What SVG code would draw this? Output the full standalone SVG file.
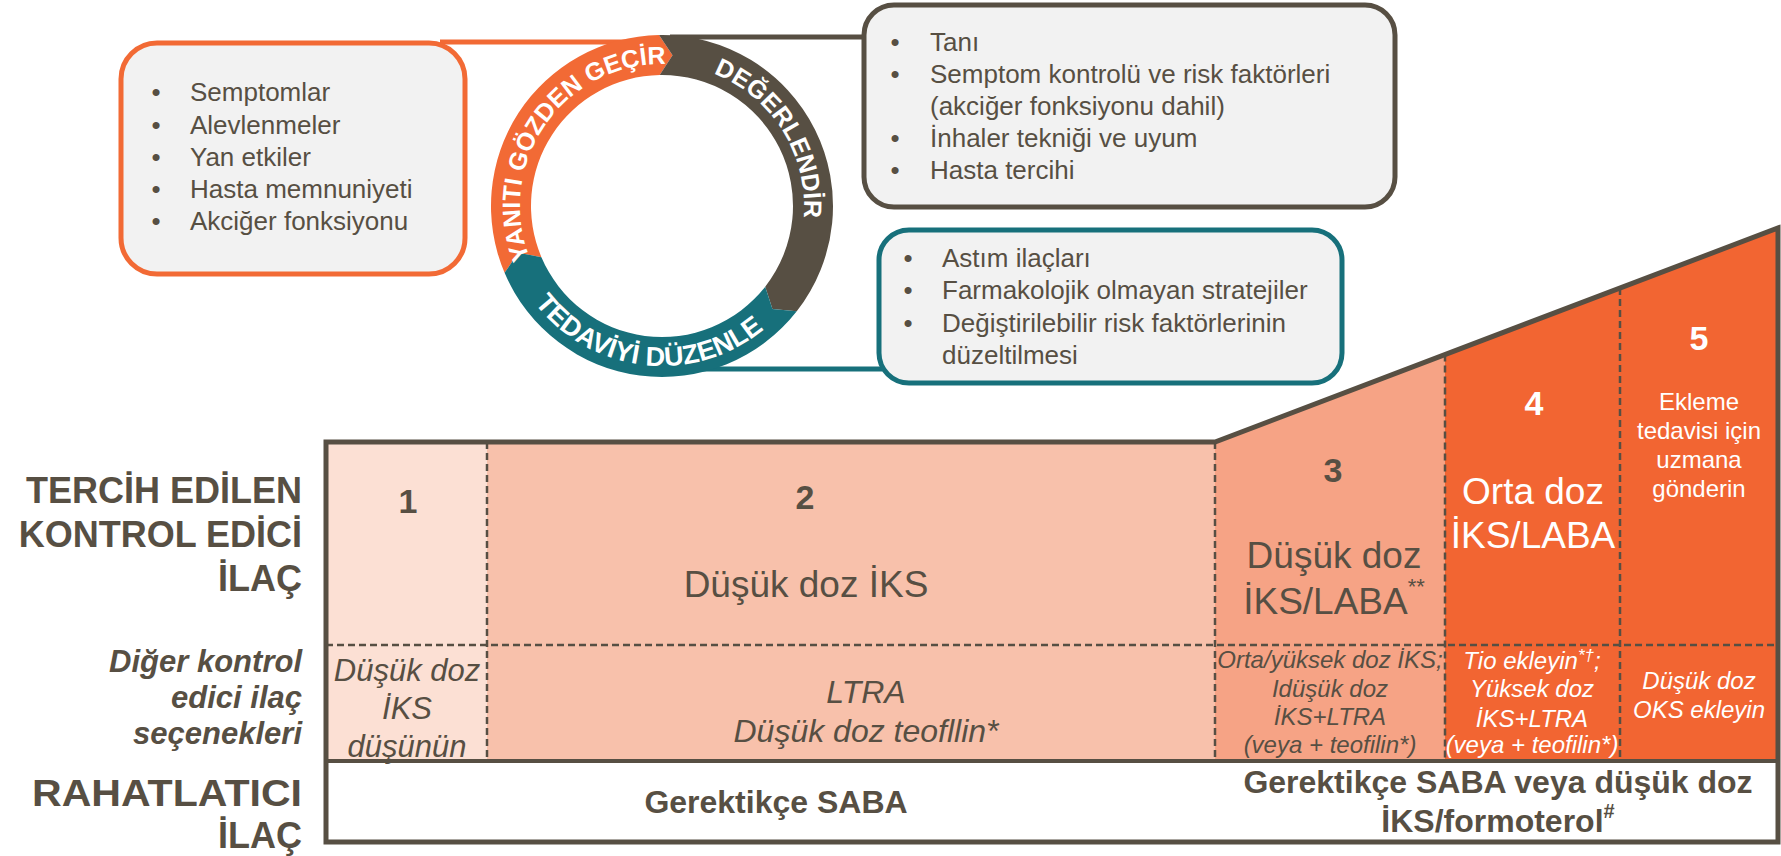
<svg xmlns="http://www.w3.org/2000/svg" width="1781" height="856" viewBox="0 0 1781 856">
  <defs>
    <style>
      text { font-family: "Liberation Sans", Arial, sans-serif; }
      .dk { fill: #574F43; }
      .wh { fill: #FFFFFF; }
      .box { fill: #F2F2F2; stroke-width: 5; }
      .blt { font-size: 26px; fill: #574F43; }
      .ring-t { font-weight: bold; fill: #FFFFFF; }
      .num { font-size: 34px; font-weight: bold; text-anchor: middle; }
      .big { font-size: 37px; text-anchor: middle; }
      .it { font-style: italic; text-anchor: middle; }
      .lbl { font-size: 36px; font-weight: bold; text-anchor: end; fill: #574F43; }
      .lbl-i { font-size: 31px; font-weight: bold; font-style: italic; text-anchor: end; fill: #574F43; }
      .rel { font-size: 32px; font-weight: bold; text-anchor: middle; fill: #574F43; }
      .dash { stroke: #574F43; stroke-width: 2.5; stroke-dasharray: 7 4; fill: none; }
      .conn { stroke-width: 5; fill: none; }
    </style>
    <!-- text baselines around the cycle, centre (662,206) -->
    <path id="arc-review" d="M539.0,277.0 A142,142 0 0 1 686.66,66.16"/>
    <path id="arc-assess" d="M686.66,66.16 A142,142 0 0 1 798.5,245.1"/>
    <path id="arc-adjust" d="M521.39,282.35 A160,160 0 0 0 781.83,312.02"/>
  </defs>

  <!-- connectors from the cycle to the three boxes -->
  <g id="connectors">
    <line class="conn" x1="440" y1="42" x2="640" y2="42" stroke="#F26A35"/>
    <line class="conn" x1="670" y1="37" x2="866" y2="37" stroke="#574F43"/>
    <line class="conn" x1="700" y1="369" x2="882" y2="369" stroke="#17707B"/>
  </g>

  <!-- review box -->
  <g id="box-review">
    <rect class="box" x="121" y="43" width="344" height="231" rx="36" stroke="#F26A35"/>
    <g class="blt">
      <text x="156" y="101" text-anchor="middle">•</text>
      <text x="190" y="101">Semptomlar</text>
      <text x="156" y="134" text-anchor="middle">•</text>
      <text x="190" y="134">Alevlenmeler</text>
      <text x="156" y="166" text-anchor="middle">•</text>
      <text x="190" y="166">Yan etkiler</text>
      <text x="156" y="198" text-anchor="middle">•</text>
      <text x="190" y="198">Hasta memnuniyeti</text>
      <text x="156" y="230" text-anchor="middle">•</text>
      <text x="190" y="230">Akciğer fonksiyonu</text>
    </g>
  </g>

  <!-- assess box -->
  <g id="box-assess">
    <rect class="box" x="864" y="5" width="531" height="202" rx="30" stroke="#574F43"/>
    <g class="blt">
      <text x="895" y="51" text-anchor="middle">•</text>
      <text x="930" y="51">Tanı</text>
      <text x="895" y="83" text-anchor="middle">•</text>
      <text x="930" y="83">Semptom kontrolü ve risk faktörleri</text>
      <text x="930" y="115">(akciğer fonksiyonu dahil)</text>
      <text x="895" y="147" text-anchor="middle">•</text>
      <text x="930" y="147">İnhaler tekniği ve uyum</text>
      <text x="895" y="179" text-anchor="middle">•</text>
      <text x="930" y="179">Hasta tercihi</text>
    </g>
  </g>

  <!-- adjust box -->
  <g id="box-adjust">
    <rect class="box" x="879" y="230" width="463" height="153" rx="30" stroke="#17707B"/>
    <g class="blt">
      <text x="908" y="267" text-anchor="middle">•</text>
      <text x="942" y="267">Astım ilaçları</text>
      <text x="908" y="299" text-anchor="middle">•</text>
      <text x="942" y="299">Farmakolojik olmayan stratejiler</text>
      <text x="908" y="332" text-anchor="middle">•</text>
      <text x="942" y="332">Değiştirilebilir risk faktörlerinin</text>
      <text x="942" y="364">düzeltilmesi</text>
    </g>
  </g>

  <!-- management cycle ring -->
  <g id="cycle">
    <path fill="#F26A35" d="M504.59,272.82 A171,171 0 0 1 659.02,35.03 L672.53,55.37 L659.71,75.02 A131,131 0 0 0 541.41,257.19 L518.39,252.66 Z"/>
    <path fill="#574F43" d="M659.02,35.03 A171,171 0 0 1 796.75,311.28 L772.43,308.98 L765.23,286.65 A131,131 0 0 0 659.71,75.02 L672.53,55.37 Z"/>
    <path fill="#17707B" d="M796.75,311.28 A171,171 0 0 1 504.59,272.82 L518.39,252.66 L541.41,257.19 A131,131 0 0 0 765.23,286.65 L772.43,308.98 Z"/>
    <text class="ring-t" font-size="25"><textPath href="#arc-review" startOffset="50%" text-anchor="middle">YANITI GÖZDEN GEÇİR</textPath></text>
    <text class="ring-t" font-size="25"><textPath href="#arc-assess" startOffset="50%" text-anchor="middle">DEĞERLENDİR</textPath></text>
    <text class="ring-t" font-size="27"><textPath href="#arc-adjust" startOffset="50%" text-anchor="middle">TEDAVİYİ DÜZENLE</textPath></text>
  </g>

  <!-- row labels -->
  <g id="row-labels">
    <text class="lbl" x="302" y="503">TERCİH EDİLEN</text>
    <text class="lbl" x="302" y="547">KONTROL EDİCİ</text>
    <text class="lbl" x="302" y="591">İLAÇ</text>
    <text class="lbl-i" x="302" y="672">Diğer kontrol</text>
    <text class="lbl-i" x="302" y="708">edici ilaç</text>
    <text class="lbl-i" x="302" y="744">seçenekleri</text>
    <text class="lbl" x="302" y="806" textLength="270" lengthAdjust="spacingAndGlyphs">RAHATLATICI</text>
    <text class="lbl" x="302" y="848">İLAÇ</text>
  </g>

  <!-- step table -->
  <g id="step-table">
    <rect x="326" y="442" width="161" height="319" fill="#FCE0D4"/>
    <rect x="487" y="442" width="728" height="319" fill="#F8C1AB"/>
    <polygon points="1215,442 1445,354.6 1445,761 1215,761" fill="#F6A385"/>
    <polygon points="1445,354.6 1778,228 1778,761 1445,761" fill="#F26532"/>
    <rect x="326" y="761" width="1452" height="81" fill="#FFFFFF"/>

    <line class="dash" x1="487" y1="442" x2="487" y2="761"/>
    <line class="dash" x1="1215" y1="442" x2="1215" y2="761"/>
    <line class="dash" x1="1445" y1="354.6" x2="1445" y2="761"/>
    <line class="dash" x1="1620" y1="288.1" x2="1620" y2="761"/>
    <line class="dash" x1="326" y1="645" x2="1778" y2="645"/>
    <line x1="326" y1="761" x2="1778" y2="761" stroke="#574F43" stroke-width="4"/>
    <path d="M326,442 L1215,442 L1778,228 L1778,842 L326,842 Z" fill="none" stroke="#574F43" stroke-width="5" stroke-linejoin="miter"/>
  </g>

  <g id="step-1">
    <text class="num dk" x="408" y="513">1</text>
    <g class="it dk" font-size="31">
      <text x="407" y="681">Düşük doz</text>
      <text x="407" y="719">İKS</text>
      <text x="407" y="757">düşünün</text>
    </g>
  </g>

  <g id="step-2">
    <text class="num dk" x="805" y="509">2</text>
    <text class="big dk" x="806" y="597">Düşük doz İKS</text>
    <g class="it dk" font-size="32">
      <text x="866" y="703">LTRA</text>
      <text x="866" y="742">Düşük doz teofllin*</text>
    </g>
    <text class="rel" x="776" y="813">Gerektikçe SABA</text>
  </g>

  <g id="step-3">
    <text class="num dk" x="1333" y="482">3</text>
    <text class="big dk" x="1334" y="568">Düşük doz</text>
    <text class="big dk" x="1334" y="614">İKS/LABA<tspan font-size="22" dy="-20">**</tspan></text>
    <g class="it dk" font-size="24">
      <text x="1330" y="668">Orta/yüksek doz İKS;</text>
      <text x="1330" y="697">Idüşük doz</text>
      <text x="1330" y="725">İKS+LTRA</text>
      <text x="1330" y="753">(veya + teofilin*)</text>
    </g>
  </g>

  <g id="step-4">
    <text class="num wh" x="1534" y="415">4</text>
    <text class="big wh" x="1533" y="504">Orta doz</text>
    <text class="big wh" x="1533" y="548">İKS/LABA</text>
    <g class="it wh" font-size="24">
      <text x="1532" y="669">Tio ekleyin<tspan font-size="17" dy="-8">*†</tspan><tspan dy="8">;</tspan></text>
      <text x="1532" y="697">Yüksek doz</text>
      <text x="1532" y="727">İKS+LTRA</text>
      <text x="1532" y="753">(veya + teofilin*)</text>
    </g>
  </g>

  <g id="step-5">
    <text class="num wh" x="1699" y="350">5</text>
    <g class="wh" font-size="24" text-anchor="middle">
      <text x="1699" y="410">Ekleme</text>
      <text x="1699" y="439">tedavisi için</text>
      <text x="1699" y="468">uzmana</text>
      <text x="1699" y="497">gönderin</text>
    </g>
    <g class="it wh" font-size="24">
      <text x="1699" y="689">Düşük doz</text>
      <text x="1699" y="718">OKS ekleyin</text>
    </g>
  </g>

  <g id="reliever-3-5">
    <text class="rel" x="1498" y="793">Gerektikçe SABA veya düşük doz</text>
    <text class="rel" x="1498" y="832">İKS/formoterol<tspan font-size="20" dy="-14">#</tspan></text>
  </g>
</svg>
